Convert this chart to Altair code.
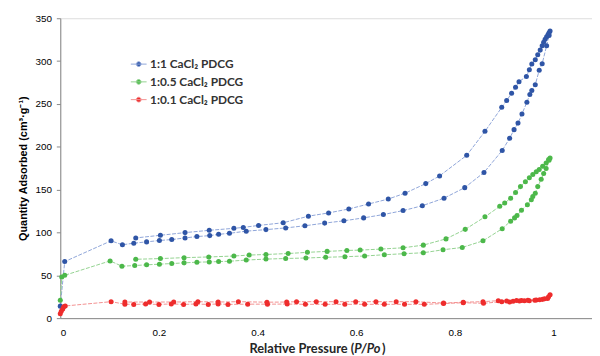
import altair as alt
import pandas as pd

series_names = ["1:1 CaCl₂ PDCG", "1:0.5 CaCl₂ PDCG", "1:0.1 CaCl₂ PDCG"]
point_colors = ["#2f55a6", "#4cb84a", "#ee2c2c"]
line_colors = ["#8ea5d8", "#93d290", "#f39090"]

# 1:1 CaCl2 PDCG  (adsorption then desorption, in measurement order)
blue_x = [0, 0.009, 0.103, 0.126, 0.149, 0.175, 0.201, 0.226, 0.253, 0.277, 0.303, 0.321, 0.343,
          0.377, 0.417, 0.457, 0.496, 0.536, 0.575, 0.615, 0.655, 0.695, 0.734, 0.778, 0.82,
          0.859, 0.896, 0.911, 0.92, 0.928, 0.936, 0.946, 0.952, 0.956, 0.963, 0.971, 0.977,
          0.986, 0.991, 0.993,
          0.991, 0.989, 0.986, 0.983, 0.98, 0.977, 0.973, 0.968, 0.963, 0.956, 0.951, 0.945,
          0.93, 0.923, 0.915, 0.905, 0.895, 0.861, 0.824, 0.769, 0.741, 0.699, 0.665, 0.625,
          0.585, 0.544, 0.503, 0.452, 0.402, 0.371, 0.352, 0.302, 0.253, 0.203, 0.153]
blue_y = [14, 66, 90.2, 85.6, 87.5, 89, 90.6, 91.7, 93.6, 95.2, 96.3, 97.8, 99,
          101.5, 103.3, 105.3, 107.8, 110.9, 113.6, 117, 120.9, 125.5, 131.2, 140, 152.3,
          170, 195.7, 209.9, 220, 227.6, 238.3, 252, 261, 265.6, 272.5, 289.3, 297,
          318, 330, 335,
          333, 331, 328.5, 325.4, 322, 317.8, 312.8, 307.4, 301.6, 296.7, 290, 282,
          276, 269.4, 262.5, 254, 246, 218, 190, 166, 157, 145.8, 139, 133.2,
          127.4, 122.8, 119, 111.3, 108.2, 105.9, 104.8, 102.5, 99.8, 96.7, 93.6]

# 1:0.5 CaCl2 PDCG
green_x = [0, 0.003, 0.009, 0.101, 0.125, 0.151, 0.175, 0.201, 0.226, 0.251, 0.277, 0.302, 0.321,
           0.343, 0.377, 0.417, 0.457, 0.498, 0.538, 0.577, 0.617, 0.657, 0.697, 0.736, 0.776,
           0.815, 0.857, 0.896, 0.913, 0.921, 0.926, 0.935, 0.947, 0.955, 0.958, 0.963, 0.968,
           0.975, 0.98, 0.985, 0.991, 0.993,
           0.99, 0.985, 0.978, 0.971, 0.965, 0.958, 0.951, 0.943, 0.933, 0.923, 0.913, 0.901,
           0.891, 0.861, 0.821, 0.782, 0.736, 0.695, 0.65, 0.608, 0.581, 0.541, 0.501, 0.462,
           0.417, 0.383, 0.352, 0.301, 0.251, 0.203, 0.153]
green_y = [21, 48, 50, 66.8, 60.6, 61.4, 62.2, 63, 63.7, 64.5, 65.3, 65.6, 66,
           66.4, 67.8, 68.9, 69.6, 70.2, 71, 71.7, 72.5, 74, 75.2, 76.3, 79.8,
           82.5, 90.2, 104.4, 113.2, 117, 119.7, 125.8, 132.4, 138.2, 142, 145.8, 153.5,
           162, 168.9, 174.6, 184.2, 186.8,
           185, 181.1, 177.3, 173.5, 170.8, 167.7, 163.9, 159.2, 153.5, 146.6, 140, 134.3,
           130.5, 118.2, 103.6, 92.5, 85.2, 82.1, 80.6, 79.4, 79, 77.9, 76.8, 75.4,
           74.3, 73.6, 72.5, 71.4, 70.6, 69.5, 68.7]

# 1:0.1 CaCl2 PDCG
red_x = [0, 0.002, 0.005, 0.007, 0.01, 0.103, 0.131, 0.149, 0.173, 0.2, 0.225, 0.25, 0.275,
         0.3, 0.32, 0.34, 0.38, 0.42, 0.46, 0.497, 0.537, 0.577, 0.617, 0.657, 0.698, 0.738,
         0.777, 0.817, 0.858, 0.895, 0.911, 0.918, 0.931, 0.941, 0.951, 0.965, 0.978, 0.988, 0.993,
         0.99, 0.982, 0.972, 0.962, 0.948, 0.935, 0.925, 0.905, 0.888, 0.857, 0.817, 0.777,
         0.721, 0.681, 0.64, 0.599, 0.559, 0.519, 0.479, 0.459, 0.419, 0.361, 0.32, 0.279,
         0.23, 0.181, 0.131]
red_y = [5, 8, 10.7, 13.4, 14.2, 19.2, 16.3, 16, 16.4, 16, 16.6, 16, 16.5,
         16, 16.6, 16, 16.3, 16.3, 16.4, 16.1, 16.1, 16.1, 16.1, 16.1, 16.1, 16.1,
         17, 18, 17.3, 19.2, 18.8, 19.6, 20, 20.4, 20.4, 21.1, 21.9, 23, 27.3,
         25, 22.5, 21.5, 21, 20.8, 20.6, 20.6, 20, 20.4, 19.2, 18.6, 17.6,
         19.2, 19.2, 19.2, 19.2, 19.2, 19.2, 19.2, 18.8, 18.6, 19.2, 18.8, 19.2,
         18.8, 18.8, 18.8]

x_ticks = [0, 0.2, 0.4, 0.6, 0.8, 1]
y_ticks = [0, 50, 100, 150, 200, 250, 300, 350]
x_title_parts = ["Relative Pressure (", "P/Po", ")"]

rows = []
for name, xs, ys in zip(series_names, [blue_x, green_x, red_x], [blue_y, green_y, red_y]):
    for i, (xv, yv) in enumerate(zip(xs, ys)):
        rows.append({"series": name, "order": i, "P": xv, "Q": yv})
df = pd.DataFrame(rows)

font = "Lato"

x_enc = alt.X("P:Q", scale=alt.Scale(domain=[0, 1.078], nice=False),
              axis=alt.Axis(values=x_ticks, format="~g", ticks=False, grid=False,
                            title=None, labelPadding=10))
y_enc = alt.Y("Q:Q", scale=alt.Scale(domain=[0, 350], nice=False),
              axis=alt.Axis(values=y_ticks, grid=False, tickSize=4, labelPadding=5,
                            title="Quantity Adsorbed (cm³·g⁻¹)", titlePadding=7))

lines = alt.Chart(df).mark_line(strokeWidth=1, strokeDash=[4, 1.5]).encode(
    x=x_enc, y=y_enc,
    color=alt.Color("series:N", scale=alt.Scale(domain=series_names, range=line_colors), legend=None),
    order="order:Q",
    detail="series:N",
)

legend_path = "M-1,0H1M0.3,0A0.3,0.3,0,1,1,-0.3,0A0.3,0.3,0,1,1,0.3,0Z"
legend_kw = dict(title=None, orient="none", legendX=71, legendY=38,
                 symbolType=legend_path, symbolSize=256, symbolStrokeWidth=1,
                 labelFont=font, labelFontSize=12, labelFontWeight="bold",
                 labelColor="#333333", rowPadding=3, labelOffset=3)

points = alt.Chart(df).mark_point(filled=True, size=26, opacity=1, strokeWidth=0).encode(
    x=x_enc, y=y_enc,
    fill=alt.Fill("series:N", scale=alt.Scale(domain=series_names, range=point_colors),
                  legend=alt.Legend(**legend_kw)),
    stroke=alt.Stroke("series:N", scale=alt.Scale(domain=series_names, range=line_colors),
                      legend=alt.Legend(**legend_kw)),
)

one = pd.DataFrame({"k": [0]})
title_style = dict(font=font, fontSize=13, fontWeight="bold", color="#262626", baseline="middle")
t1 = alt.Chart(one).mark_text(align="right", **title_style).encode(
    x=alt.value(298), y=alt.value(335), text=alt.value(x_title_parts[0]))
t2 = alt.Chart(one).mark_text(align="left", fontStyle="italic", **title_style).encode(
    x=alt.value(298), y=alt.value(335), text=alt.value(x_title_parts[1]))
t3 = alt.Chart(one).mark_text(align="left", **title_style).encode(
    x=alt.value(326), y=alt.value(335), text=alt.value(x_title_parts[2]))

chart = alt.layer(lines, points, t1, t2, t3).resolve_scale(color="independent").properties(
    width=539, height=304,
    autosize=alt.AutoSizeParams(type="none"),
    padding={"left": 53, "top": 8, "right": 0, "bottom": 36},
).configure_view(stroke=None).configure_axis(
    labelFont=font, labelFontSize=11, labelColor="#595959",
    titleFont=font, titleFontSize=13, titleFontWeight="bold", titleColor="#262626",
    domainColor="#8c8c8c", tickColor="#8c8c8c", domainWidth=1,
).configure(background="white")

chart.save("out.html", embed_options={"renderer": "svg", "actions": False})
